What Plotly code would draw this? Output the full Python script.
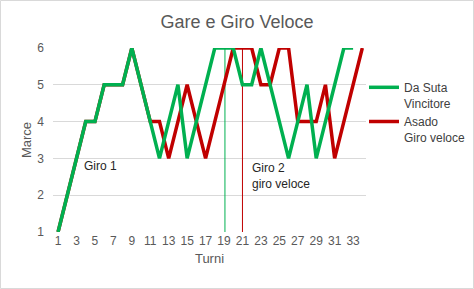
import plotly.graph_objects as go

turni_green = list(range(1, 34))
da_suta = [1, 2, 3, 4, 4, 5, 5, 5, 6, 5, 4, 3, 4, 5, 3, 4, 5, 6, 6, 6,
           5, 5, 6, 5, 4, 3, 4, 5, 3, 4, 5, 6, 6]
turni_red = list(range(1, 35))
asado = [1, 2, 3, 4, 4, 5, 5, 5, 6, 5, 4, 4, 3, 4, 5, 4, 3, 4, 5, 6,
         6, 6, 5, 5, 6, 6, 4, 4, 4, 5, 3, 4, 5, 6]
vline_green_x = [19.1, 19.1]
vline_red_x = [21, 21]
vline_y = [1, 6]
x_ticks = list(range(1, 35, 2))
y_ticks = [1, 2, 3, 4, 5, 6]

GREEN = "#00B050"
RED = "#C00000"
FONT = "Liberation Sans"

W, H = 474, 289
L, R, T, B = 53, 108, 48, 57
pw, ph = W - L - R, H - T - B

fig = go.Figure()
fig.add_trace(go.Scatter(x=vline_green_x, y=vline_y, mode="lines",
                         line=dict(color=GREEN, width=1), showlegend=False, hoverinfo="skip"))
fig.add_trace(go.Scatter(x=vline_red_x, y=vline_y, mode="lines",
                         line=dict(color=RED, width=1), showlegend=False, hoverinfo="skip"))
fig.add_trace(go.Scatter(x=turni_red, y=asado, mode="lines", name="Asado<br>Giro veloce",
                         line=dict(color=RED, width=3.5), legendrank=2))
fig.add_trace(go.Scatter(x=turni_green, y=da_suta, mode="lines", name="Da Suta<br>Vincitore",
                         line=dict(color=GREEN, width=3.5), legendrank=1))

fig.update_layout(
    width=W, height=H,
    margin=dict(l=L, r=R, t=T, b=B, autoexpand=False),
    paper_bgcolor="white", plot_bgcolor="white",
    font=dict(family=FONT, size=12, color="#595959"),
    title=dict(text="Gare e Giro Veloce", x=0.5, xanchor="center", y=1 - 22 / H, yanchor="middle",
               font=dict(family=FONT, size=18, color="#595959")),
    xaxis=dict(range=[0.45, 34.4], tickmode="array", tickvals=x_ticks, ticktext=[str(v) for v in x_ticks],
               showgrid=False, zeroline=False, showline=False, ticks="",
               tickfont=dict(size=12, color="#595959"),
               title=dict(text="Turni", standoff=6, font=dict(size=13, color="#595959"))),
    yaxis=dict(range=[1, 6], tickmode="array", tickvals=y_ticks,
               showgrid=True, gridcolor="#d9d9d9", gridwidth=1, zeroline=False, showline=False,
               ticks="", ticklabelstandoff=8,
               tickfont=dict(size=12, color="#595959"),
               title=dict(text="Marce", standoff=2, font=dict(size=13, color="#595959"))),
    legend=dict(x=(364 - L) / pw, xanchor="left", y=(H - B - 73) / ph, yanchor="top",
                font=dict(family=FONT, size=12, color="#404040"), bgcolor="rgba(0,0,0,0)",
                tracegroupgap=6, valign="top", itemwidth=30),
    showlegend=True,
    annotations=[
        dict(x=5.55, y=2.79, xref="x", yref="y", text="Giro 1", showarrow=False,
             font=dict(family=FONT, size=12, color="#262626")),
        dict(x=21.8, y=2.53, xref="x", yref="y", text="Giro 2<br>giro veloce", showarrow=False,
             xanchor="left", align="left", font=dict(family=FONT, size=12, color="#262626")),
    ],
    shapes=[dict(type="rect", xref="paper", yref="paper",
                 x0=-(L - 0.5) / pw, x1=(W - L - 0.5) / pw,
                 y0=-(B - 0.5) / ph, y1=(H - B - 0.5) / ph,
                 line=dict(color="#d9d9d9", width=1), fillcolor="rgba(0,0,0,0)", layer="below")],
)

fig.write_html("out.html")
